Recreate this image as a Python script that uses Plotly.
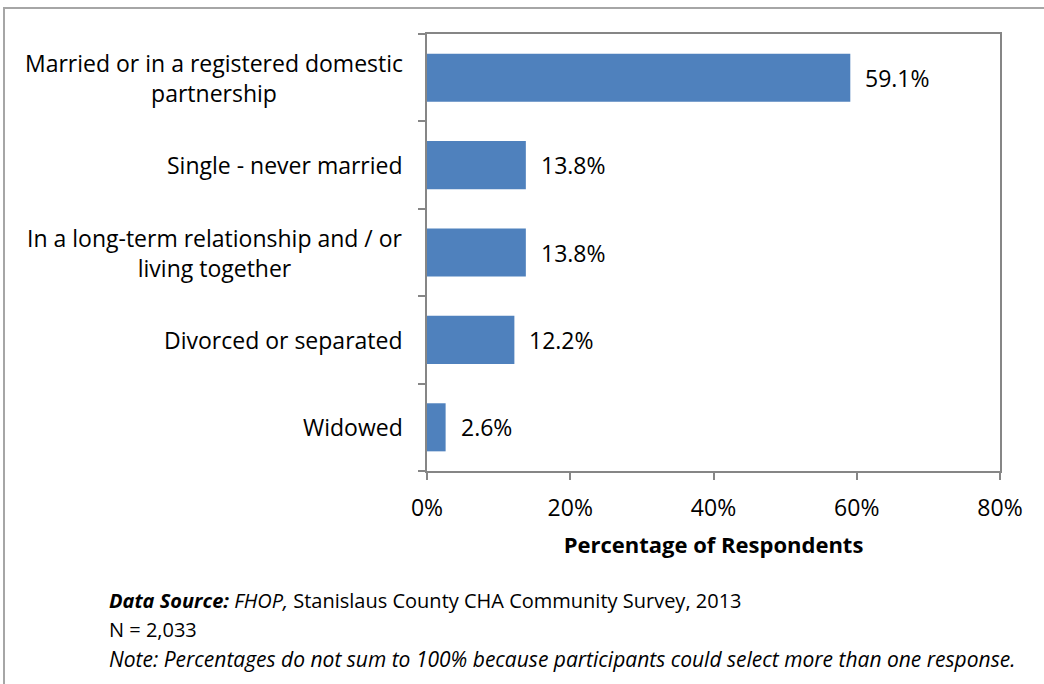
import plotly.graph_objects as go

# Marital status of survey respondents (percent)
categories = [
    "Married or in a registered domestic<br>partnership",
    "Single - never married",
    "In a long-term relationship and / or<br>living together",
    "Divorced or separated",
    "Widowed",
]
values = [59.1, 13.8, 13.8, 12.2, 2.6]
x_ticks = [0, 20, 40, 60, 80]
x_tick_labels = ["0%", "20%", "40%", "60%", "80%"]

FONT = "Open Sans"
SIZE = 23
BAR = "#4F81BD"
AXIS = "#868686"

W, H = 1044, 684
L, R, T, B = 427, 1000, 34, 471   # plot area in pixels

fig = go.Figure(
    go.Bar(
        x=values,
        y=categories,
        orientation="h",
        marker=dict(color=BAR, line=dict(width=0)),
        width=0.55,
        hoverinfo="x+y",
    )
)

fig.update_layout(
    width=W,
    height=H,
    margin=dict(l=L, r=W - R, t=T, b=H - B, pad=0),
    paper_bgcolor="white",
    plot_bgcolor="white",
    showlegend=False,
    font=dict(family=FONT, size=SIZE, color="#000000"),
)

fig.update_xaxes(
    range=[0, 80],
    tickvals=x_ticks,
    ticktext=x_tick_labels,
    ticks="outside",
    ticklen=7,
    tickcolor=AXIS,
    tickwidth=2,
    ticklabelstandoff=8,
    showline=True,
    linecolor=AXIS,
    linewidth=2,
    mirror=True,
    showgrid=False,
    zeroline=False,
    tickfont=dict(family=FONT, size=SIZE),
    title=dict(
        text="<b>Percentage of Respondents</b>",
        font=dict(family=FONT, size=22),
        standoff=16,
    ),
)

fig.update_yaxes(
    type="category",
    categoryorder="array",
    categoryarray=categories[::-1],
    autorange=False,
    range=[-0.5, len(categories) - 0.5],
    showticklabels=False,
    ticks="outside",
    tickson="boundaries",
    ticklen=7,
    tickcolor=AXIS,
    tickwidth=2,
    showline=True,
    linecolor=AXIS,
    linewidth=2,
    mirror=True,
    showgrid=False,
)

# Category labels, right-aligned block with centred lines
for c in categories:
    fig.add_annotation(
        x=0, xref="paper", y=c, yref="y",
        text=c, showarrow=False,
        xanchor="right", yanchor="middle", align="center",
        xshift=-22,
        font=dict(family=FONT, size=SIZE, color="#000000"),
    )

# Value labels to the right of each bar
for c, v in zip(categories, values):
    fig.add_annotation(
        x=v, xref="x", y=c, yref="y",
        text=f"{v:.1f}%", showarrow=False,
        xanchor="left", yanchor="middle", xshift=13,
        font=dict(family=FONT, size=SIZE, color="#000000"),
    )

def px_x(p):
    return (p - L) / (R - L)

def px_y(p):
    return (B - p) / (B - T)

# Outer frame around the chart
fig.add_shape(
    type="rect", xref="paper", yref="paper",
    x0=px_x(4), x1=px_x(W + 20), y0=px_y(H + 20), y1=px_y(8),
    line=dict(color="#A6A6A6", width=2), fillcolor="rgba(0,0,0,0)",
    layer="below",
)

# Footnotes
notes = [
    "<b><i>Data Source:</i></b> <i>FHOP,</i> Stanislaus County CHA Community Survey, 2013",
    "N = 2,033",
    "<i>Note: Percentages do not sum to 100% because participants could select more than one response.</i>",
]
note_sizes = [20, 20, 21]
for i, (n, s) in enumerate(zip(notes, note_sizes)):
    fig.add_annotation(
        x=px_x(107), xref="paper", y=px_y(600 + i * 29.5), yref="paper",
        text=n, showarrow=False, xanchor="left", yanchor="middle",
        align="left", font=dict(family=FONT, size=s, color="#000000"),
    )

fig.write_html("out.html")
